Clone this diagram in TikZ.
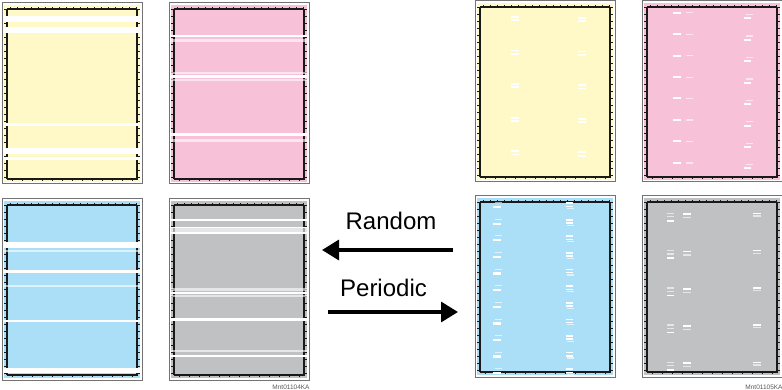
\documentclass[tikz,border=0pt]{standalone}
\usepackage{fontspec}
\setmainfont{Liberation Sans}
\usetikzlibrary{arrows.meta}

\definecolor{pyellow}{RGB}{255,249,200}
\definecolor{ppink}{RGB}{247,194,216}
\definecolor{pblue}{RGB}{170,223,247}
\definecolor{pgray}{RGB}{192,193,195}

\tikzset{
  sheetframe/.style={draw=black!55, line width=1, fill=white},
  blackedge/.style={draw=black!90, line width=1.5},
  sideedge/.style={draw=black!90, line width=2.4},
  tickmark/.style={draw=black!90, line width=0.8},
  whiteband/.style={fill=white},
  lightband/.style={fill=white, fill opacity=0.6},
  bigarrow/.style={line width=3.3, -{Triangle[length=17pt,width=20pt]}},
  bigtext/.style={font=\fontsize{24}{28}\selectfont, inner sep=0},
  codetext/.style={font=\fontsize{6.5}{8}\selectfont, text=black!65, inner sep=0},
}

% one printed sheet, top left corner at the origin of the current scope
\newcommand{\sheet}[1]{%
  \draw[sheetframe] (0,0) rectangle (140,181);
  \fill[#1] (2,2) rectangle (138,179);
  \foreach \i in {0,...,37}
    \draw[tickmark] ({5+3.5*\i},6) -- ++(0,{-1.2-mod(\i,2)});
  \foreach \i in {0,...,26}
    \draw[tickmark] ({5+5*\i},176) -- ++(0,{1.2+mod(\i,2)});
  \foreach \i in {0,...,24} {
    \draw[tickmark] (5,{6+7*\i}) -- ++(-3,0);
    \draw[tickmark] (135,{6+7*\i}) -- ++(3,0);
  }
  \draw[blackedge] (5,6) -- (135,6);
  \draw[blackedge] (5,176) -- (135,176);
  \draw[sideedge] (5,6) -- (5,176);
  \draw[sideedge] (135,6) -- (135,176);
}

\begin{document}
\begin{tikzpicture}[x=1pt, y=-1pt]
  \useasboundingbox (0,0) rectangle (782,390);

  % random faults
  \begin{scope}[shift={(2,3)}]
    \sheet{pyellow}
    \fill[whiteband] (2,13) rectangle (138,19);
    \fill[whiteband] (2,24) rectangle (138,30);
    \fill[whiteband] (2,120.3) rectangle (138,123);
    \fill[whiteband] (2,145) rectangle (138,151);
    \fill[whiteband] (2,154) rectangle (138,157);
  \end{scope}
  \begin{scope}[shift={(169,3)}]
    \sheet{ppink}
    \fill[whiteband] (2,32) rectangle (138,34.3);
    \fill[lightband] (2,36.3) rectangle (138,38.7);
    \fill[lightband] (2,68.7) rectangle (138,71);
    \fill[whiteband] (2,72) rectangle (138,75);
    \fill[lightband] (2,76) rectangle (138,77.7);
    \fill[whiteband] (2,130.3) rectangle (138,133);
    \fill[lightband] (2,136.3) rectangle (138,138.7);
  \end{scope}
  \begin{scope}[shift={(2,199)}]
    \sheet{pblue}
    \fill[whiteband] (2,42.7) rectangle (138,49.3);
    \fill[lightband] (2,51) rectangle (138,52.7);
    \fill[whiteband] (2,71) rectangle (138,74.3);
    \fill[lightband] (2,86) rectangle (138,87.7);
    \fill[whiteband] (2,121) rectangle (138,123.3);
    \fill[whiteband] (2,169.3) rectangle (138,174.3);
  \end{scope}
  \begin{scope}[shift={(169,199)}]
    \sheet{pgray}
    \fill[whiteband] (2,20) rectangle (138,22);
    \fill[whiteband] (2,27.7) rectangle (138,28.7);
    \fill[lightband] (2,28.7) rectangle (138,32.7);
    \fill[whiteband] (2,33.3) rectangle (138,35.3);
    \fill[lightband] (2,89) rectangle (138,92);
    \fill[whiteband] (2,92.7) rectangle (138,95.3);
    \fill[lightband] (2,96) rectangle (138,97.7);
    \fill[whiteband] (2,119.3) rectangle (138,122);
    \fill[lightband] (2,151) rectangle (138,153.3);
    \fill[whiteband] (2,156) rectangle (138,158);
  \end{scope}

  % periodic faults
  \begin{scope}[shift={(475,1)}]
    \sheet{pyellow}
    \foreach \r in {0,...,4} {
      \fill[whiteband] (36,{15+33.6*\r}) rectangle ++(7.5,1.8);
      \fill[whiteband] (36,{18.3+33.6*\r}) rectangle ++(7.5,1.8);
      \fill[whiteband] (103,{16+33.6*\r}) rectangle ++(7.5,1.8);
      \fill[whiteband] (103,{19.5+33.6*\r}) rectangle ++(7.5,1.8);
    }
  \end{scope}
  \begin{scope}[shift={(642,1)}]
    \sheet{ppink}
    \foreach \r in {0,...,7} {
      \fill[whiteband] (31,{10.7+21.45*\r}) rectangle ++(8,2);
      \fill[lightband] (44,{11.2+21.45*\r}) rectangle ++(7,1.2);
      \fill[lightband] (104,{13+21.45*\r}) rectangle ++(7,1.2);
      \fill[whiteband] (102,{16.3+21.45*\r}) rectangle ++(7,2);
    }
  \end{scope}
  \begin{scope}[shift={(475,196)}]
    \sheet{pblue}
    \foreach \r in {0,...,10} {
      \fill[lightband] (20,{6.3+16.6*\r}) rectangle ++(7,1);
      \fill[whiteband] (18,{10+16.6*\r}) rectangle ++(8,2.3);
      \fill[whiteband] (91,{6.3+16.6*\r}) rectangle ++(7,1.7);
      \fill[whiteband] (91,{9.6+16.6*\r}) rectangle ++(7,1.5);
      \fill[lightband] (92,{12+16.6*\r}) rectangle ++(7,1.2);
    }
  \end{scope}
  \begin{scope}[shift={(642,196)}]
    \sheet{pgray}
    \foreach \r in {0,...,4} {
      \fill[lightband] (25,{16.7+37.25*\r}) rectangle ++(7,1.3);
      \fill[lightband] (25,{20+37.25*\r}) rectangle ++(7,1.3);
      \fill[whiteband] (25,{24+37.25*\r}) rectangle ++(7,1.6);
      \fill[whiteband] (41,{17.4+37.25*\r}) rectangle ++(8,1.8);
      \fill[lightband] (41,{21+37.25*\r}) rectangle ++(8,1.4);
      \fill[whiteband] (111,{16.7+37.25*\r}) rectangle ++(8,1.5);
      \fill[lightband] (111,{19.4+37.25*\r}) rectangle ++(8,1.3);
    }
  \end{scope}

  % labels and arrows
  \node[bigtext, anchor=base] (random) at (391,230) {Random};
  \node[bigtext, anchor=base] (periodic) at (383.5,296.5) {Periodic};
  \coordinate (randomtail) at (453,250);
  \coordinate (randomtip) at (322,250);
  \coordinate (periodictail) at (328,312);
  \coordinate (periodictip) at (458,312);
  \draw[bigarrow] (randomtail) -- (randomtip);
  \draw[bigarrow] (periodictail) -- (periodictip);

  \node[codetext, anchor=base] (codeleft) at (291,389.5) {Mnt01104KA};
  \node[codetext, anchor=base] (coderight) at (764,389.5) {Mnt01105KA};
\end{tikzpicture}
\end{document}
